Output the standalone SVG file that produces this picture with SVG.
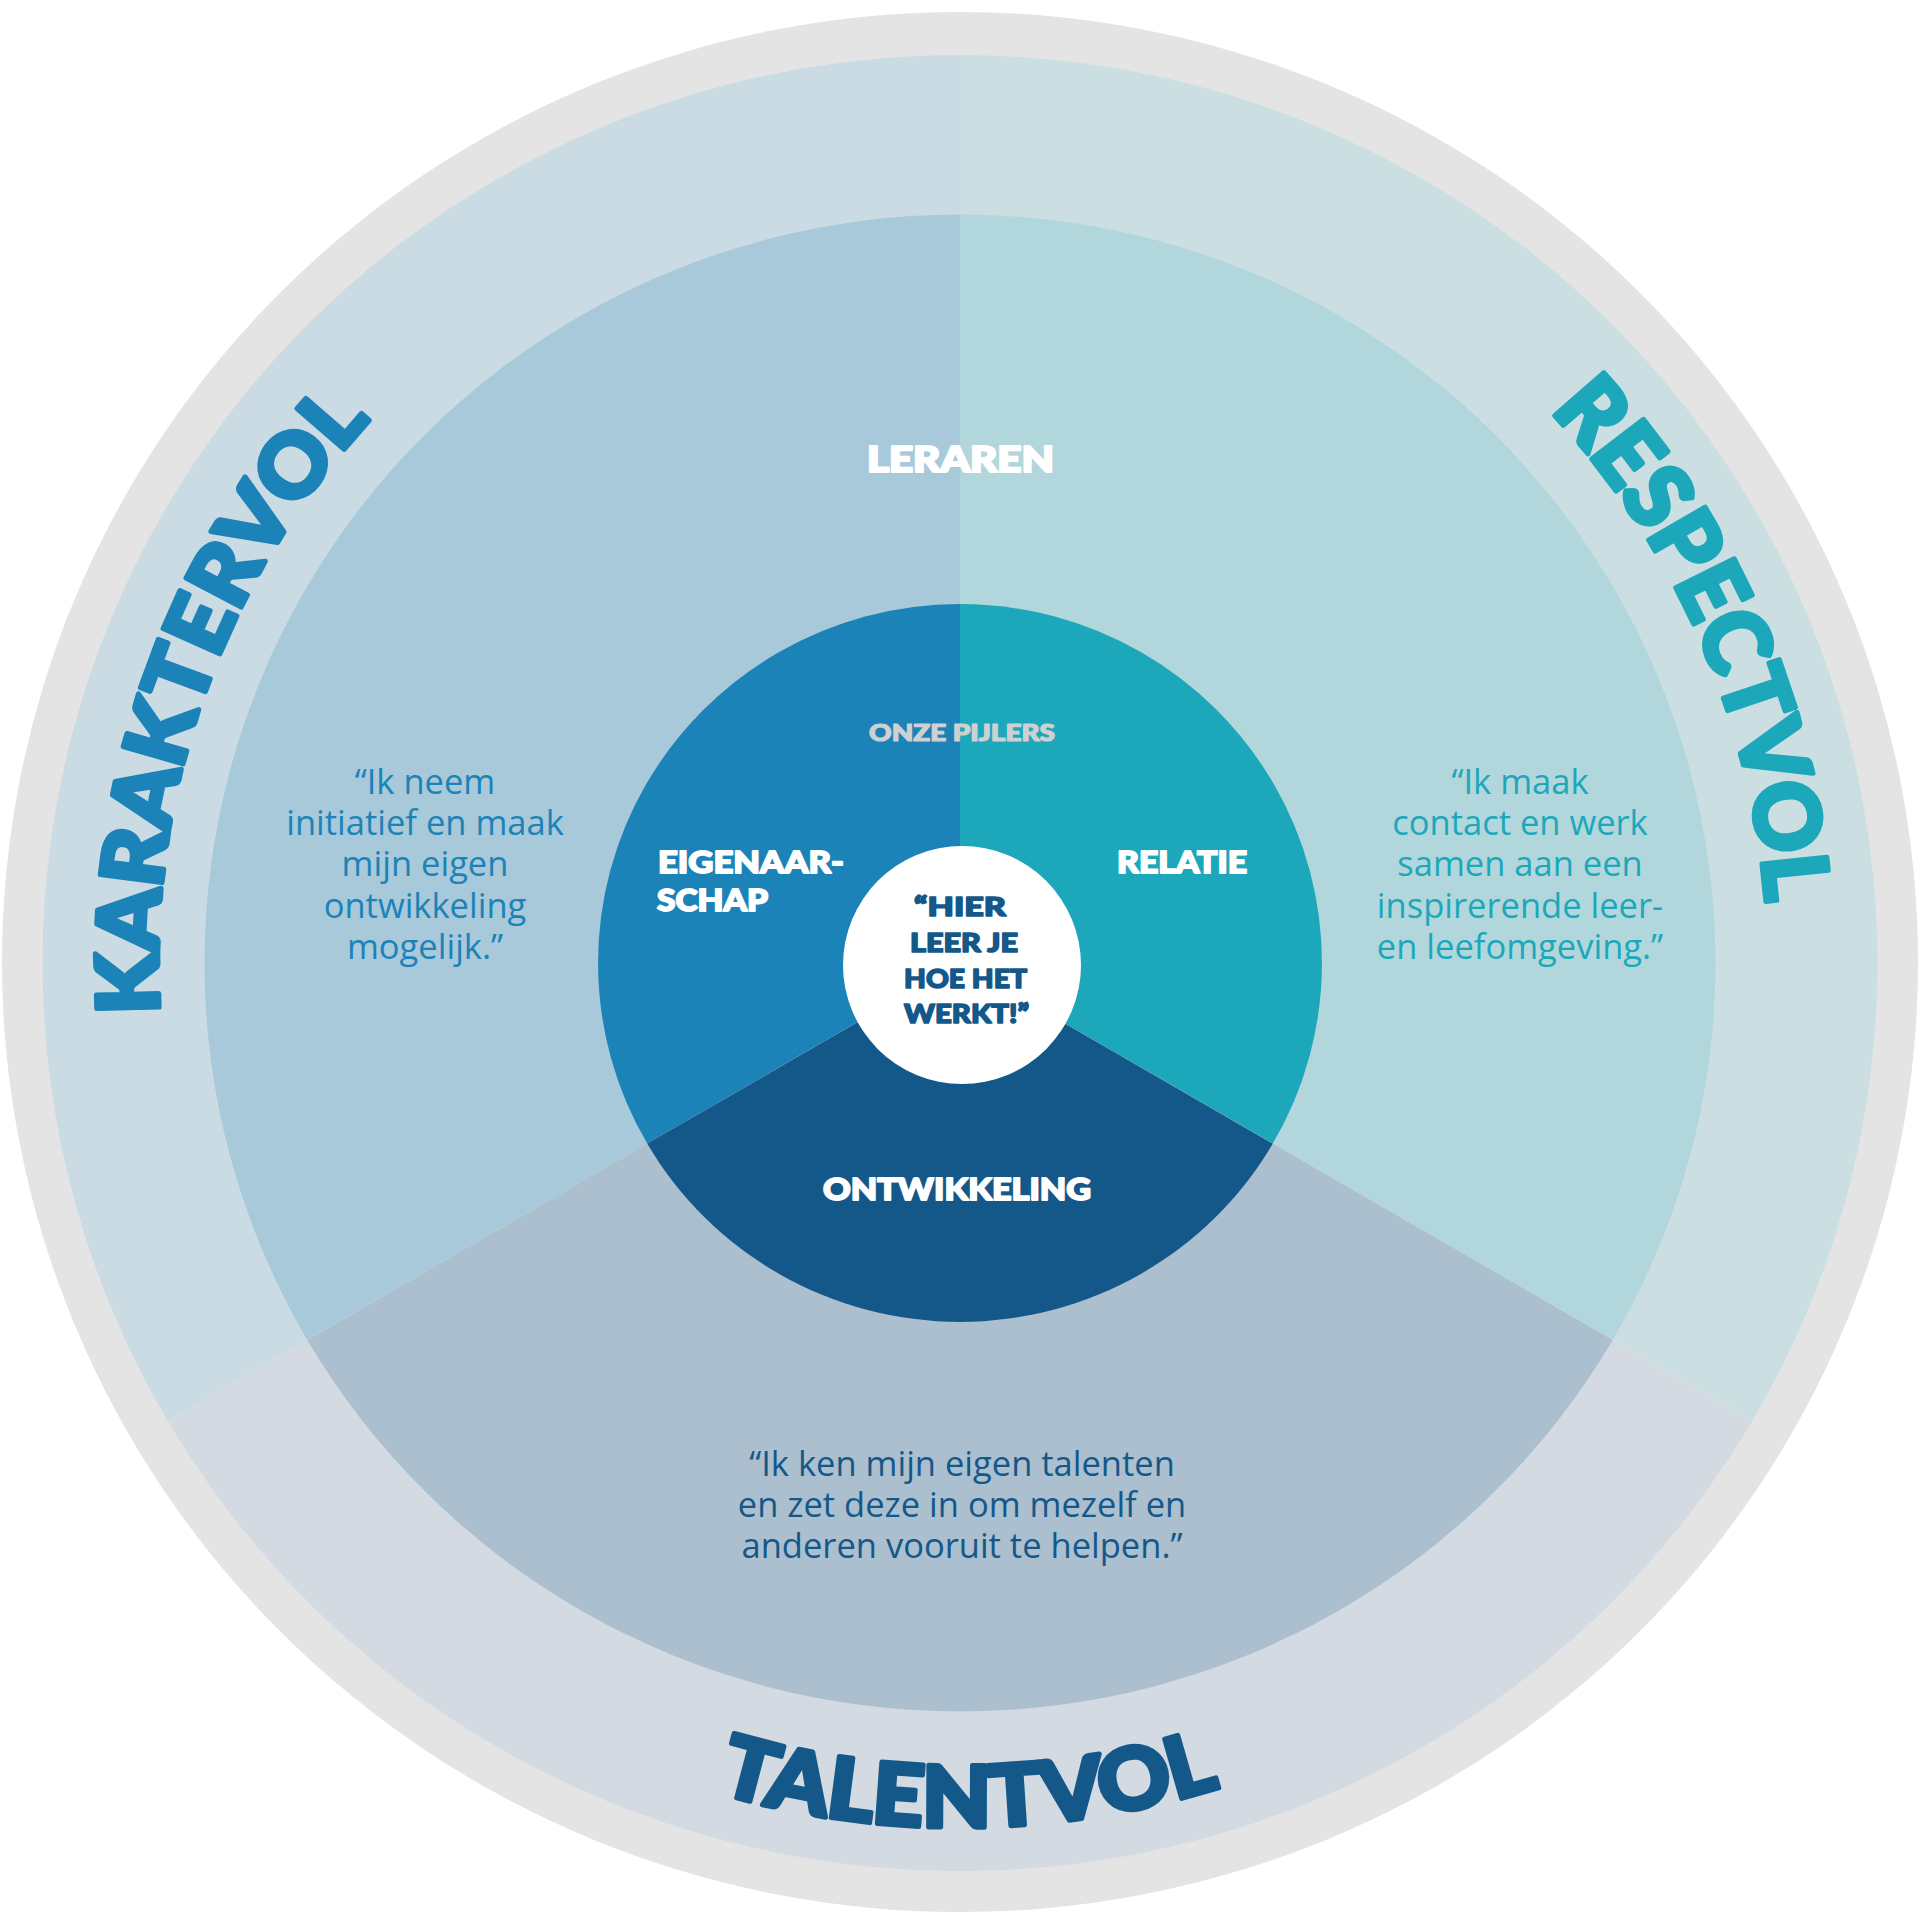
<svg xmlns="http://www.w3.org/2000/svg" width="1920" height="1920" viewBox="0 0 1920 1920">
  <style>
    .head { font-family: Lato, Inter, "DejaVu Sans", sans-serif; font-weight: 900; stroke-linejoin: round; }
    .quote { font-family: "Open Sans", "Liberation Sans", sans-serif; font-size: 34.5px; text-anchor: middle; }
    .lbl { font-family: Lato, Inter, "DejaVu Sans", sans-serif; font-weight: 900; fill: #ffffff; stroke: #ffffff; stroke-width: 1.8px; stroke-linejoin: round; }
    .dark { fill: #14588a; stroke: #14588a; stroke-width: 1.5px; }
    .grey { fill: #cfd0d1; stroke: #cfd0d1; stroke-width: 1.2px; }
  </style>
  <defs>
    <path id="arcK" d="M444.5,1577.3 A802,802 0 0 1 1234.3,209.4"/>
    <path id="arcR" d="M683.7,203.7 A808,808 0 0 1 1479.4,1581.9"/>
    <path id="arcT" d="M109.1,1113 A864,864 0 0 0 1810.9,1113"/>
  </defs>
  <rect x="0" y="0" width="1920" height="1920" fill="#ffffff"/>
  <ellipse id="rim" cx="960" cy="962" rx="958" ry="950" fill="#e4e4e4"/>

  <g id="sector-karaktervol">
    <path d="M960,963 L167.5,1420.5 A917.5,908 0 0 1 960,55 Z" fill="#cbdbe3"/>
    <path d="M960,963 L307.3,1339.9 A755.5,748.5 0 0 1 960,214.5 Z" fill="#a7c9da"/>
    <path d="M960,963 L647.2,1143.6 A362,359 0 0 1 960,604 Z" fill="#1c83b8"/>
  </g>
  <g id="sector-respectvol">
    <path d="M960,963 L960,55 A917.5,908 0 0 1 1752.5,1420.5 Z" fill="#cbdfe3"/>
    <path d="M960,963 L960,214.5 A755.5,748.5 0 0 1 1612.7,1339.9 Z" fill="#b1d7dc"/>
    <path d="M960,963 L960,604 A362,359 0 0 1 1272.8,1143.6 Z" fill="#1ca8ba"/>
  </g>
  <g id="sector-talentvol">
    <path d="M960,963 L1752.5,1420.5 A917.5,908 0 0 1 167.5,1420.5 Z" fill="#d3dae2"/>
    <path d="M960,963 L1612.7,1339.9 A755.5,748.5 0 0 1 307.3,1339.9 Z" fill="#abbfcf"/>
    <path d="M960,963 L1272.8,1143.6 A362,359 0 0 1 647.2,1143.6 Z" fill="#14588a"/>
  </g>

  <g id="label-karaktervol">
    <text class="head" font-size="86" fill="#1c83b8" stroke="#1c83b8" stroke-width="5"><textPath href="#arcK" startOffset="972.8" text-anchor="middle" textLength="648" lengthAdjust="spacingAndGlyphs">KARAKTERVOL</textPath></text>
  </g>
  <g id="label-respectvol">
    <text class="head" font-size="90" fill="#1ca8ba" stroke="#1ca8ba" stroke-width="5"><textPath href="#arcR" startOffset="1217" text-anchor="middle" textLength="548" lengthAdjust="spacingAndGlyphs">RESPECTVOL</textPath></text>
  </g>
  <g id="label-talentvol">
    <text class="head" font-size="85" fill="#14588a" stroke="#14588a" stroke-width="5"><textPath href="#arcT" startOffset="1215.4" text-anchor="middle" textLength="510" lengthAdjust="spacingAndGlyphs">TALENTVOL</textPath></text>
  </g>

  <g id="node-leraren">
    <text class="lbl" x="960.5" y="472" font-size="36" style="stroke-width:2.2px" text-anchor="middle" textLength="187" lengthAdjust="spacingAndGlyphs">LERAREN</text>
  </g>

  <g id="quote-karaktervol">
    <text class="quote" fill="#1c83b8" y="794"><tspan x="425">“Ik neem</tspan><tspan x="425" dy="41.2">initiatief en maak</tspan><tspan x="425" dy="41.2">mijn eigen</tspan><tspan x="425" dy="41.2">ontwikkeling</tspan><tspan x="425" dy="41.2">mogelijk.”</tspan></text>
  </g>
  <g id="quote-respectvol">
    <text class="quote" fill="#1ca8ba" y="794"><tspan x="1520">“Ik maak</tspan><tspan x="1520" dy="41.2">contact en werk</tspan><tspan x="1520" dy="41.2">samen aan een</tspan><tspan x="1520" dy="41.2">inspirerende leer-</tspan><tspan x="1520" dy="41.2">en leefomgeving.”</tspan></text>
  </g>
  <g id="quote-talentvol">
    <text class="quote" fill="#14588a" y="1476"><tspan x="962">“Ik ken mijn eigen talenten</tspan><tspan x="962" dy="41">en zet deze in om mezelf en</tspan><tspan x="962" dy="41">anderen vooruit te helpen.”</tspan></text>
  </g>

  <g id="node-onze-pijlers">
    <text class="lbl grey" x="962" y="741" font-size="22" text-anchor="middle" textLength="186" lengthAdjust="spacingAndGlyphs">ONZE PIJLERS</text>
  </g>
  <g id="node-eigenaarschap">
    <text class="lbl" x="658" y="873" font-size="31"><tspan textLength="186" lengthAdjust="spacingAndGlyphs">EIGENAAR-</tspan><tspan x="657" dy="38" textLength="111" lengthAdjust="spacingAndGlyphs">SCHAP</tspan></text>
  </g>
  <g id="node-relatie">
    <text class="lbl" x="1117" y="873" font-size="31" textLength="130" lengthAdjust="spacingAndGlyphs">RELATIE</text>
  </g>
  <g id="node-ontwikkeling">
    <text class="lbl" x="823" y="1200" font-size="31" textLength="268" lengthAdjust="spacingAndGlyphs">ONTWIKKELING</text>
  </g>

  <g id="node-center">
    <circle cx="962" cy="965" r="119" fill="#ffffff"/>
    <text class="lbl dark" font-size="26" x="914" y="916"><tspan textLength="92" lengthAdjust="spacingAndGlyphs">“HIER</tspan><tspan x="910" dy="36" textLength="108" lengthAdjust="spacingAndGlyphs">LEER JE</tspan><tspan x="904" dy="36" textLength="123" lengthAdjust="spacingAndGlyphs">HOE HET</tspan><tspan x="904" dy="35" textLength="125" lengthAdjust="spacingAndGlyphs">WERKT!”</tspan></text>
  </g>
</svg>
